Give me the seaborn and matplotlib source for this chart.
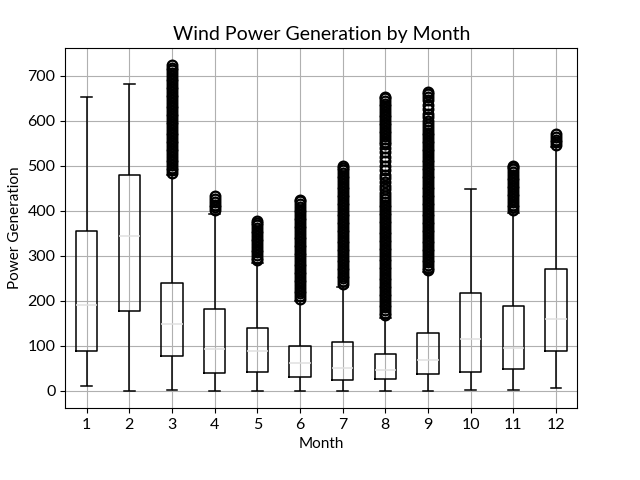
import numpy as np
import pandas as pd
import matplotlib
matplotlib.use("Agg")
import matplotlib.pyplot as plt
import seaborn as sns

months = [1, 2, 3, 4, 5, 6, 7, 8, 9, 10, 11, 12]
lows = [12, 0, 3, 0, 0, 0, 0, 0, 0, 2, 2, 7]
q1s = [88, 178, 78, 40, 42, 31, 24, 27, 38, 42, 49, 89]
medians = [190, 344, 149, 93, 89, 62, 51, 47, 69, 116, 96, 160]
q3s = [355, 479, 240, 182, 140, 100, 108, 82, 129, 218, 189, 271]
highs = [653, 683, 480, 394, 284, 200, 232, 163, 264, 448, 396, 542]

fliers_m3 = [484, 490, 496, 502, 508, 514, 520, 526, 532, 538, 544, 550, 556, 562, 568,
             574, 580, 586, 592, 598, 604, 610, 616, 622, 628, 634, 640, 646, 652, 658,
             664, 670, 676, 682, 688, 694, 700, 706, 712, 718, 724]
fliers_m4 = [402, 408, 414, 420, 426, 432]
fliers_m5 = [290, 296, 302, 308, 314, 320, 326, 332, 338, 344, 350, 356, 362, 368, 374, 378]
fliers_m6 = [205, 211, 217, 223, 229, 235, 241, 247, 253, 259, 265, 271, 277, 283, 289,
             295, 301, 307, 313, 319, 325, 331, 337, 343, 349, 355, 361, 367, 373, 379,
             385, 391, 397, 403, 409, 415, 421, 425]
fliers_m7 = [238, 244, 250, 256, 262, 268, 274, 280, 286, 292, 298, 304, 310, 316, 322,
             328, 334, 340, 346, 352, 358, 364, 370, 376, 382, 388, 394, 400, 406, 412,
             418, 424, 430, 436, 442, 448, 454, 460, 466, 472, 478, 484, 490, 496, 500]
fliers_m8 = [168, 174, 180, 186, 192, 198, 204, 210, 216, 222, 228, 234, 240, 246, 252,
             258, 264, 270, 276, 282, 288, 294, 300, 306, 312, 318, 324, 330, 336, 342,
             348, 354, 360, 366, 372, 378, 384, 390, 396, 402, 408, 414, 420, 426, 432,
             440, 448, 456, 464, 472, 480, 490, 500, 510, 520, 530, 540, 548, 554, 560,
             566, 572, 578, 584, 590, 596, 602, 608, 614, 620, 626, 632, 638, 644, 650,
             654]
fliers_m9 = [268, 274, 280, 286, 292, 298, 304, 310, 316, 322, 328, 334, 340, 346, 352,
             358, 364, 370, 376, 382, 388, 394, 400, 406, 412, 418, 424, 430, 436, 442,
             448, 454, 460, 466, 472, 478, 484, 490, 496, 502, 508, 514, 520, 526, 532,
             538, 544, 550, 556, 562, 568, 574, 580, 586, 592, 600, 608, 616, 626, 636,
             646, 654, 660, 664]
fliers_m11 = [402, 408, 414, 420, 426, 432, 438, 444, 450, 456, 462, 468, 474, 480, 486,
              492, 498, 500]
fliers_m12 = [546, 552, 558, 564, 570]

fliers = {1: [], 2: [], 3: fliers_m3, 4: fliers_m4, 5: fliers_m5, 6: fliers_m6,
          7: fliers_m7, 8: fliers_m8, 9: fliers_m9, 10: [], 11: fliers_m11, 12: fliers_m12}

# Build a sample per month whose quartiles / whiskers reproduce the read statistics
K = 300
rows = []
for i, m in enumerate(months):
    vals = [lows[i]] + [q1s[i]] * K + [medians[i]] * K + [q3s[i]] * K + [highs[i]] + fliers[m]
    rows.extend((m, v) for v in vals)
df = pd.DataFrame(rows, columns=["Month", "Power Generation"])

plt.rcParams["font.family"] = ["Lato", "DejaVu Sans"]
fig, ax = plt.subplots(figsize=(6.4, 4.8), dpi=100)
fig.subplots_adjust(left=0.102, right=0.902, top=0.9, bottom=0.15)

sns.boxplot(
    data=df, x="Month", y="Power Generation", ax=ax,
    fill=False, color="black", width=0.5, linewidth=1.1,
    medianprops=dict(color="#e0e0e0", linewidth=1.1),
    flierprops=dict(marker="o", markerfacecolor="none", markeredgecolor="black",
                    markersize=7, markeredgewidth=1.6),
)

ax.grid(True, color="#b0b0b0", linewidth=0.8)
ax.set_axisbelow(True)
ax.set_ylim(-38, 762)
ax.set_title("Wind Power Generation by Month", fontsize=14)
ax.set_xlabel("Month", fontsize=11)
ax.set_ylabel("Power Generation", fontsize=11)
ax.tick_params(labelsize=11.5)
for s in ax.spines.values():
    s.set_color("black")

fig.savefig("out.png", dpi=100)
